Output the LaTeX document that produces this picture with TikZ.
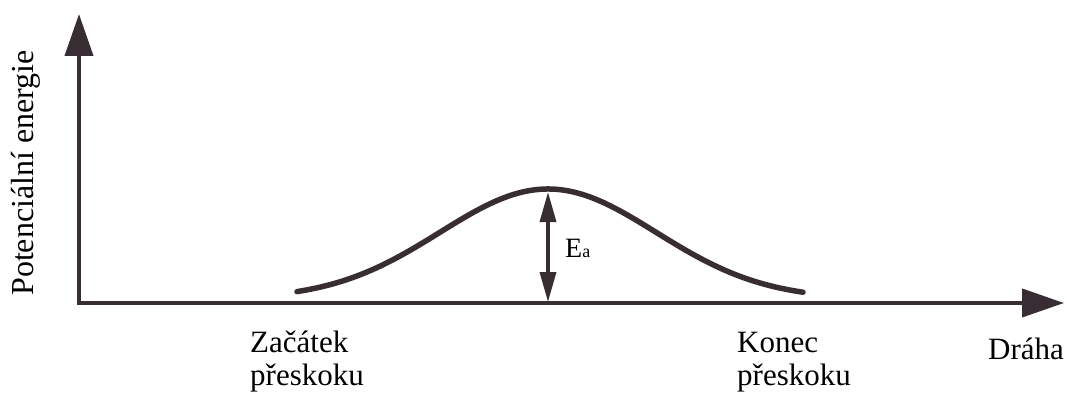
\documentclass[tikz,border=0pt]{standalone}
\usepackage{fontspec}
\setmainfont{Liberation Serif}
\usetikzlibrary{arrows.meta}
\definecolor{ink}{RGB}{55,45,50}
\begin{document}
\begin{tikzpicture}[x=1pt,y=-1pt,
  axis/.style={draw=ink,line width=4pt,-{Triangle[width=28pt,length=42pt]}},
  curve/.style={draw=ink,line width=5.5pt,line cap=round},
  ea/.style={draw=ink,line width=3.5pt,{Triangle[width=16pt,length=30pt]}-{Triangle[width=16pt,length=30pt]}},
  lbl/.style={font=\fontsize{31}{33}\selectfont,text=black,inner sep=0pt}]
\useasboundingbox (0,0) rectangle (1067,393);
\coordinate (O) at (79,303);
\coordinate (ytip) at (79,14);
\coordinate (xtip) at (1064,303);
\coordinate (peak) at (548,192);
\coordinate (foot) at (548,302);
\draw[axis] (O) -- (ytip);
\draw[axis] ([xshift=-2pt]O) -- (xtip);
\draw[curve] plot[domain=297:803,samples=90,smooth] (\x,{299-110*exp(-0.5*((\x-548)/108)^2)});
\draw[ea] (foot) -- (peak);
\node[lbl,anchor=base west,font=\fontsize{28}{30}\selectfont] (ea) at (565,257) {E{\fontsize{18}{20}\selectfont a}};
\node[lbl,rotate=90,anchor=base,font=\fontsize{32}{34}\selectfont] (ylab) at (33,173) {Potenciální energie};
\node[lbl,anchor=base west] (start1) at (250,352) {Začátek};
\node[lbl,anchor=base west] (start2) at (250,385) {přeskoku};
\node[lbl,anchor=base west] (end1) at (737,352) {Konec};
\node[lbl,anchor=base west] (end2) at (737,385) {přeskoku};
\node[lbl,anchor=base west] (drah) at (988,359) {Dráha};
\end{tikzpicture}
\end{document}
